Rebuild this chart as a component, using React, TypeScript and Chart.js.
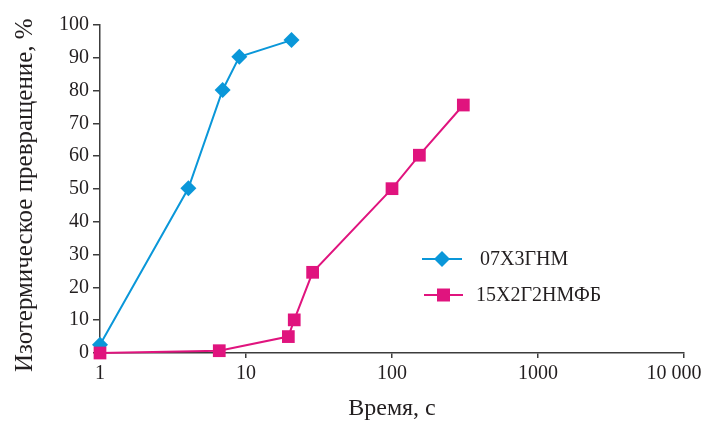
import React, { useEffect, useRef } from "react";
import { Chart, registerables } from "chart.js";

Chart.register(...registerables);

// Time (s, log scale) vs isothermal transformation (%)
const steelA = "07Х3ГНМ";
const steelATime = [1, 4.03, 6.92, 9.0, 20.5];
const steelAValue = [2.5, 50.2, 80.2, 90.3, 95.4];

const steelB = "15Х2Г2НМФБ";
const steelBTime = [1, 6.56, 19.5, 21.4, 28.6, 100, 154, 308];
const steelBValue = [0, 0.7, 5.0, 10.1, 24.6, 50.1, 60.3, 75.6];

const xTickValues = [1, 10, 100, 1000, 10000];
const xTickLabels = ["1", "10", "100", "1000", "10 000"];

const BLUE = "#0a97d9";
const PINK = "#e0147e";
const AXIS = "#3c3c3c";
const TEXT = "#231f20";
const FONT = "'Liberation Serif', 'Times New Roman', serif";

// Legend drawn inside the plot area, to the right of the curves
const insideLegend = {
  id: "insideLegend",
  afterDraw(chart: any) {
    const ctx = chart.ctx as CanvasRenderingContext2D;
    const rows = [
      { label: steelA, color: BLUE, shape: "diamond", x0: 422, x1: 462, y: 259, tx: 480 },
      { label: steelB, color: PINK, shape: "square", x0: 424, x1: 463, y: 295, tx: 476 },
    ];
    ctx.save();
    for (const r of rows) {
      ctx.strokeStyle = r.color;
      ctx.lineWidth = 2;
      ctx.beginPath();
      ctx.moveTo(r.x0, r.y);
      ctx.lineTo(r.x1, r.y);
      ctx.stroke();
      const cx = (r.x0 + r.x1) / 2;
      ctx.fillStyle = r.color;
      ctx.beginPath();
      if (r.shape === "diamond") {
        const h = 8;
        ctx.moveTo(cx, r.y - h);
        ctx.lineTo(cx + h, r.y);
        ctx.lineTo(cx, r.y + h);
        ctx.lineTo(cx - h, r.y);
        ctx.closePath();
      } else {
        const h = 6.5;
        ctx.rect(cx - h, r.y - h, 2 * h, 2 * h);
      }
      ctx.fill();
      ctx.fillStyle = TEXT;
      ctx.font = `20px ${FONT}`;
      ctx.textAlign = "left";
      ctx.textBaseline = "middle";
      ctx.fillText(r.label, r.tx, r.y + 1);
    }
    ctx.restore();
  },
};

export default function App() {
  const canvasRef = useRef<HTMLCanvasElement | null>(null);

  useEffect(() => {
    const canvas = canvasRef.current;
    if (!canvas) return;
    const chart = new Chart(canvas, {
      type: "line",
      data: {
        datasets: [
          {
            label: steelA,
            data: steelATime.map((t, i) => ({ x: t, y: steelAValue[i] })),
            borderColor: BLUE,
            backgroundColor: BLUE,
            borderWidth: 2,
            pointStyle: "rectRot",
            pointRadius: 8,
            pointBorderWidth: 0,
            tension: 0,
            clip: false as any,
            order: 1,
          },
          {
            label: steelB,
            data: steelBTime.map((t, i) => ({ x: t, y: steelBValue[i] })),
            borderColor: PINK,
            backgroundColor: PINK,
            borderWidth: 2,
            pointStyle: "rect",
            pointRadius: 9,
            pointBorderWidth: 0,
            tension: 0,
            clip: false as any,
            order: 0,
          },
        ],
      },
      options: {
        responsive: false,
        animation: false,
        devicePixelRatio: 1,
        layout: { padding: { top: 25, right: 22, left: 0, bottom: 0 } },
        plugins: {
          legend: { display: false },
          tooltip: { enabled: false },
        },
        scales: {
          x: {
            type: "logarithmic",
            min: 1,
            max: 10000,
            afterBuildTicks: (scale: any) => {
              scale.ticks = xTickValues.map((v) => ({ value: v }));
            },
            afterFit: (scale: any) => {
              scale.height = 69;
              scale.paddingLeft = 0;
              scale.paddingRight = 0;
            },
            ticks: {
              autoSkip: false,
              maxRotation: 0,
              padding: 4,
              color: TEXT,
              font: { family: FONT, size: 20 },
              callback: (value: any) => {
                const i = xTickValues.indexOf(Number(value));
                if (i < 0) return "";
                // the last label is nudged left so it stays inside the canvas
                return i === xTickLabels.length - 1 ? xTickLabels[i] + "    " : xTickLabels[i];
              },
            },
            grid: { drawOnChartArea: false, drawTicks: true, tickLength: 5, color: AXIS, lineWidth: 1.5 },
            border: { color: AXIS, width: 1.5 },
            title: {
              display: true,
              text: "Время, с",
              color: TEXT,
              font: { family: FONT, size: 24, lineHeight: 1.1 },
              padding: { top: 0, bottom: 0 },
            },
          },
          y: {
            type: "linear",
            min: 0,
            max: 100,
            afterFit: (scale: any) => {
              scale.width = 100;
              scale.paddingTop = 0;
              scale.paddingBottom = 0;
            },
            ticks: {
              stepSize: 10,
              padding: 4,
              color: TEXT,
              font: { family: FONT, size: 20 },
            },
            grid: { drawOnChartArea: false, drawTicks: true, tickLength: 7, color: AXIS, lineWidth: 1.5 },
            border: { color: AXIS, width: 1.5 },
            title: {
              display: true,
              text: "Изотермическое превращение, %  ",
              color: TEXT,
              font: { family: FONT, size: 25 },
              padding: { top: 10, bottom: 0 },
            },
          },
        },
      },
      plugins: [insideLegend],
    });
    return () => chart.destroy();
  }, []);

  return (
    <div style={{ position: "fixed", left: 0, top: 0, width: 706, height: 422, background: "#fff" }}>
      <canvas ref={canvasRef} width={706} height={422} style={{ width: 706, height: 422, display: "block" }} />
    </div>
  );
}
